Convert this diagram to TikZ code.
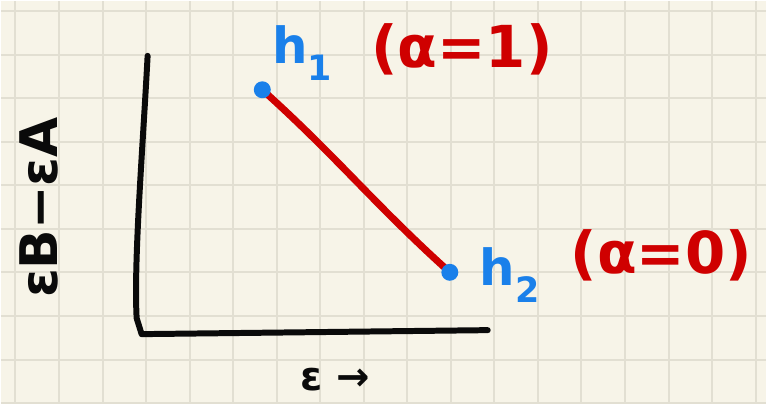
\documentclass[tikz,border=0pt]{standalone}
\usepackage{fontspec}
\setmainfont{DejaVu Sans}
\usetikzlibrary{positioning,backgrounds}
\definecolor{paper}{HTML}{F7F4E8}
\definecolor{gridln}{HTML}{E2DFD2}
\definecolor{pen}{HTML}{0A0A0A}
\definecolor{penblue}{HTML}{1A80EA}
\definecolor{penred}{HTML}{CF0000}
\tikzset{
  axis/.style={draw=pen,line width=6pt,line cap=round,line join=round},
  curve/.style={draw=penred,line width=7pt,line cap=round},
  pt/.style={circle,fill=penblue,inner sep=0pt,minimum size=17pt},
  bluelbl/.style={text=penblue,font=\fontsize{50}{50}\selectfont\bfseries,inner sep=0pt},
  redlbl/.style={text=penred,font=\fontsize{58}{58}\selectfont\bfseries,inner sep=0pt},
  blklbl/.style={text=pen,font=\fontsize{40}{40}\selectfont\bfseries,inner sep=0pt},
}

\begin{document}
\begin{tikzpicture}[x=1pt,y=-1pt]
  \begin{scope}[on background layer]
    \fill[paper] (0,0) rectangle (767,402);
    \foreach \i in {0,...,17}
      \draw[gridln,line width=2pt] ({14.5+43.65*\i},0) -- ({14.5+43.65*\i},402);
    \foreach \j in {0,...,9}
      \draw[gridln,line width=2pt] (0,{10+43.7*\j}) -- (767,{10+43.7*\j});
  \end{scope}
  \useasboundingbox (0,0) rectangle (767,402);
  % axes
  \coordinate (ytop) at (147,55);
  \coordinate (orig) at (141,334);
  \coordinate (xend) at (488,330);
  \draw[axis] (ytop) .. controls (142,150) and (133,260) .. (136,318) -- (orig) -- (xend);
  % the two points
  \node[pt] (h1) at (262,89) {};
  \node[pt] (h2) at (450,272) {};
  \begin{scope}[on background layer]
    \draw[curve] (h1.center) to[out=-42,in=138] (h2.center);
  \end{scope}
  % labels
  \node[bluelbl] (h1lbl) at (302,52) {h\textsubscript{1}};
  \node[redlbl] (a1lbl) at (462,48) {(α=1)};
  \node[bluelbl] (h2lbl) at (510,275) {h\textsubscript{2}};
  \node[redlbl] (a0lbl) at (662,255) {(α=0)};
  \node[blklbl,font=\fontsize{52}{52}\selectfont\bfseries,rotate=90] (ylbl) at (38,207) {εB−εA};
  \node[blklbl] (xlbl) at (335,380) {ε →};
\end{tikzpicture}
\end{document}
